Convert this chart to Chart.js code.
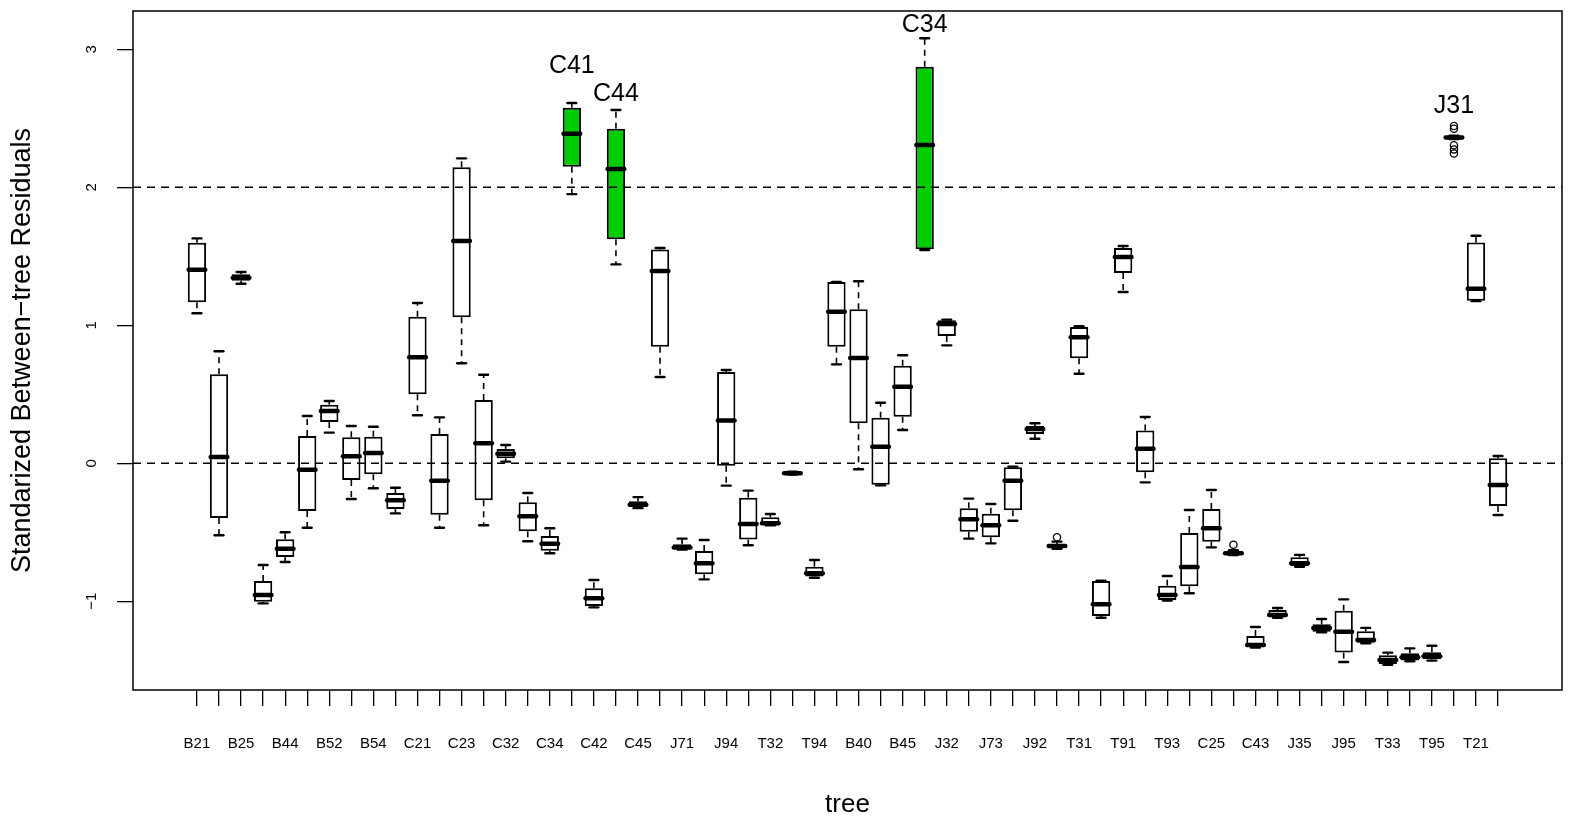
<!DOCTYPE html>
<html>
<head>
<meta charset="utf-8">
<script src="https://cdn.jsdelivr.net/npm/chart.js@4/dist/chart.umd.min.js"></script>
<style>
  html, body { margin: 0; padding: 0; background: #fff; overflow: hidden; }
  #wrap { width: 1569px; height: 821px; }
</style>
</head>
<body>
<div id="wrap"><canvas id="c" width="1569" height="821"></canvas></div>
<script>
// Trees in plotting order
const trees = [
  'B21','B22','B25','B41','B44','B51','B52','B53','B54','C11',
  'C21','C22','C23','C31','C32','C33','C34','C41','C42','C44',
  'C45','J51','J71','J91','J94','T22','T32','T51','T94','T98',
  'B40','B42','B45','C34','J32','J41','J73','J84','J92','T24',
  'T31','T34','T91','T92','T93','T97','C25','C35','C43','J33',
  'J35','J54','J95','T23','T33','T53','T95','J31','T21','T26'
];

// Five-number summaries of the standardized between-tree residuals
const whiskerLow = [
  1.087,-0.522, 1.301,-1.015,-0.715,-0.467, 0.222,-0.259,-0.181,-0.363,
  0.348,-0.467, 0.725,-0.449, 0.012,-0.565,-0.652, 1.951,-1.044, 1.442,
 -0.325, 0.625,-0.626,-0.841,-0.162,-0.594,-0.450,-0.082,-0.830, 0.717,
 -0.043,-0.160, 0.241, 1.545, 0.855,-0.546,-0.580,-0.416, 0.178,-0.620,
  0.649,-1.119, 1.241,-0.138,-0.995,-0.942,-0.609,-0.665,-1.335,-1.120,
 -0.750,-1.225,-1.440,-1.304,-1.460,-1.435,-1.430, 2.350, 1.175,-0.375
];
const boxLow = [
  1.167,-0.396, 1.323,-1.003,-0.679,-0.346, 0.299,-0.121,-0.080,-0.331,
  0.500,-0.372, 1.058,-0.268, 0.036,-0.493,-0.633, 2.149,-1.034, 1.623,
 -0.315, 0.845,-0.623,-0.804,-0.017,-0.553,-0.449,-0.078,-0.821, 0.845,
  0.290,-0.155, 0.338, 1.551, 0.922,-0.496,-0.536,-0.341, 0.212,-0.611,
  0.761,-1.107, 1.379,-0.065,-0.991,-0.891,-0.568,-0.660,-1.329,-1.116,
 -0.744,-1.220,-1.372,-1.300,-1.454,-1.430,-1.420, 2.355, 1.178,-0.309
];
const medians = [
  1.403, 0.046, 1.345,-0.954,-0.619,-0.046, 0.379, 0.051, 0.075,-0.268,
  0.768,-0.126, 1.611, 0.145, 0.070,-0.384,-0.583, 2.388,-0.978, 2.133,
 -0.300, 1.393,-0.611,-0.725, 0.311,-0.440,-0.435,-0.072,-0.797, 1.099,
  0.763, 0.120, 0.555, 2.307, 1.009,-0.406,-0.449,-0.126, 0.249,-0.599,
  0.913,-1.022, 1.495, 0.106,-0.954,-0.751,-0.471,-0.652,-1.317,-1.099,
 -0.725,-1.193,-1.220,-1.280,-1.425,-1.406,-1.399, 2.362, 1.265,-0.157
];
const boxHigh = [
  1.599, 0.645, 1.370,-0.853,-0.551, 0.198, 0.425, 0.188, 0.193,-0.215,
  1.063, 0.212, 2.145, 0.459, 0.104,-0.283,-0.527, 2.577,-0.906, 2.425,
 -0.275, 1.550,-0.587,-0.636, 0.662,-0.249,-0.391,-0.065,-0.749, 1.314,
  1.116, 0.331, 0.707, 2.874, 1.036,-0.326,-0.365,-0.029, 0.270,-0.584,
  0.988,-0.853, 1.560, 0.237,-0.887,-0.505,-0.331,-0.640,-1.251,-1.063,
 -0.681,-1.167,-1.068,-1.218,-1.391,-1.377,-1.370, 2.368, 1.601, 0.036
];
const whiskerHigh = [
  1.630, 0.812, 1.386,-0.737,-0.500, 0.343, 0.451, 0.270, 0.265,-0.177,
  1.162, 0.333, 2.210, 0.642, 0.133,-0.215,-0.471, 2.611,-0.846, 2.560,
 -0.245, 1.560,-0.546,-0.556, 0.676,-0.198,-0.367,-0.060,-0.701, 1.314,
  1.319, 0.439, 0.783, 3.080, 1.041,-0.256,-0.295,-0.024, 0.290,-0.568,
  0.993,-0.850, 1.575, 0.336,-0.817,-0.338,-0.193,-0.630,-1.186,-1.049,
 -0.664,-1.128,-0.986,-1.193,-1.372,-1.341,-1.322, 2.375, 1.649, 0.053
];

// Points beyond the whiskers (position in plotting order, value)
const outlierIndex = [40, 48, 58, 58, 58, 58, 58];
const outlierValue = [-0.536, -0.590, 2.445, 2.425, 2.305, 2.275, 2.245];

// Boxes lying above the +2 threshold (position in plotting order)
const flaggedIndex = [18, 20, 34];

// Named callouts: text, position in plotting order, label baseline value
const calloutText  = ['C41', 'C44', 'C34', 'J31'];
const calloutIndex = [18, 20, 34, 58];
const calloutY     = [2.830, 2.625, 3.128, 2.536];

const yTicks = [-1, 0, 1, 2, 3];
const refLines = [0, 2];

const FONT = '"Liberation Sans", Arial, Helvetica, sans-serif';

const boxExtras = {
  id: 'boxExtras',
  afterDatasetsDraw(chart) {
    const { ctx, chartArea: a, scales: { x, y } } = chart;
    const unit = x.getPixelForValue(2) - x.getPixelForValue(1);
    const half = unit * 0.4;
    const staple = unit * 0.2;
    const seg = (x1, y1, x2, y2) => {
      ctx.beginPath(); ctx.moveTo(x1, y1); ctx.lineTo(x2, y2); ctx.stroke();
    };
    ctx.save();
    ctx.strokeStyle = '#000';
    trees.forEach((t, i) => {
      const px = x.getPixelForValue(i + 1);
      // dashed whiskers
      ctx.lineWidth = 1.6; ctx.lineCap = 'butt'; ctx.setLineDash([6, 5]);
      if (whiskerHigh[i] > boxHigh[i]) seg(px, y.getPixelForValue(boxHigh[i]), px, y.getPixelForValue(whiskerHigh[i]));
      if (whiskerLow[i] < boxLow[i]) seg(px, y.getPixelForValue(boxLow[i]), px, y.getPixelForValue(whiskerLow[i]));
      ctx.setLineDash([]);
      // staples
      ctx.lineWidth = 2.4; ctx.lineCap = 'round';
      seg(px - staple, y.getPixelForValue(whiskerHigh[i]), px + staple, y.getPixelForValue(whiskerHigh[i]));
      seg(px - staple, y.getPixelForValue(whiskerLow[i]), px + staple, y.getPixelForValue(whiskerLow[i]));
      // median
      ctx.lineWidth = 4.5;
      seg(px - half + 0.5, y.getPixelForValue(medians[i]), px + half - 0.5, y.getPixelForValue(medians[i]));
    });
    // reference lines
    ctx.lineWidth = 1.5; ctx.lineCap = 'butt'; ctx.setLineDash([8, 6]);
    refLines.forEach(v => {
      const py = y.getPixelForValue(v);
      seg(a.left, py, a.right, py);
    });
    ctx.setLineDash([]);
    // plot frame
    ctx.lineWidth = 1.5;
    ctx.strokeRect(a.left, a.top, a.right - a.left, a.bottom - a.top);
    // callouts
    ctx.fillStyle = '#000';
    ctx.font = '25px ' + FONT;
    ctx.textAlign = 'center';
    ctx.textBaseline = 'alphabetic';
    calloutText.forEach((s, k) => {
      ctx.fillText(s, x.getPixelForValue(calloutIndex[k]), y.getPixelForValue(calloutY[k]));
    });
    // rotated y tick labels
    ctx.font = '15px ' + FONT;
    yTicks.forEach(v => {
      ctx.save();
      ctx.translate(96, y.getPixelForValue(v));
      ctx.rotate(-Math.PI / 2);
      ctx.fillText(v < 0 ? '\u2212' + Math.abs(v) : String(v), 0, 0);
      ctx.restore();
    });
    ctx.restore();
  }
};

new Chart(document.getElementById('c'), {
  type: 'bar',
  data: {
    datasets: [
      {
        type: 'scatter',
        data: outlierIndex.map((p, k) => ({ x: p, y: outlierValue[k] })),
        pointStyle: 'circle',
        pointRadius: 3.6,
        pointBorderWidth: 1.3,
        pointBackgroundColor: 'rgba(0,0,0,0)',
        pointBorderColor: '#000',
        showLine: false
      },
      {
        type: 'bar',
        data: trees.map((t, i) => ({ x: i + 1, y: [boxLow[i], boxHigh[i]] })),
        backgroundColor: trees.map((t, i) => flaggedIndex.includes(i + 1) ? '#00CD00' : '#FFFFFF'),
        borderColor: '#000',
        borderWidth: 2,
        borderSkipped: false,
        categoryPercentage: 1.0,
        barPercentage: 0.83
      }
    ]
  },
  options: {
    responsive: false,
    animation: false,
    devicePixelRatio: 1,
    layout: { padding: { top: 11, right: 7, bottom: 0, left: 0 } },
    plugins: { legend: { display: false }, tooltip: { enabled: false } },
    scales: {
      x: {
        type: 'linear',
        offset: false,
        min: -1.9,
        max: 62.9,
        afterBuildTicks: s => { s.ticks = trees.map((t, i) => ({ value: i + 1 })); },
        afterFit: s => { s.height = 131; },
        grid: { offset: false, drawOnChartArea: false, drawTicks: true, tickLength: 16, color: '#000', lineWidth: 1.3 },
        border: { display: false },
        ticks: {
          autoSkip: false, maxRotation: 0, minRotation: 0, padding: 29,
          color: '#000', font: { family: FONT, size: 15 },
          callback: (v, idx) => (idx % 2 === 0 ? trees[idx] : '')
        },
        title: {
          display: true, text: 'tree', color: '#000',
          font: { family: FONT, size: 26 }, padding: { top: 0, bottom: 1 }
        }
      },
      y: {
        type: 'linear',
        min: -1.643,
        max: 3.278,
        afterBuildTicks: s => { s.ticks = yTicks.map(v => ({ value: v })); },
        afterFit: s => { s.width = 133; },
        grid: { offset: false, drawOnChartArea: false, drawTicks: true, tickLength: 16, color: '#000', lineWidth: 1.3 },
        border: { display: false },
        ticks: { display: false },
        title: {
          display: true, text: 'Standarized Between\u2212tree Residuals', color: '#000',
          font: { family: FONT, size: 27 }, padding: { top: 6, bottom: 0 }
        }
      }
    }
  },
  plugins: [boxExtras]
});
</script>
</body>
</html>
